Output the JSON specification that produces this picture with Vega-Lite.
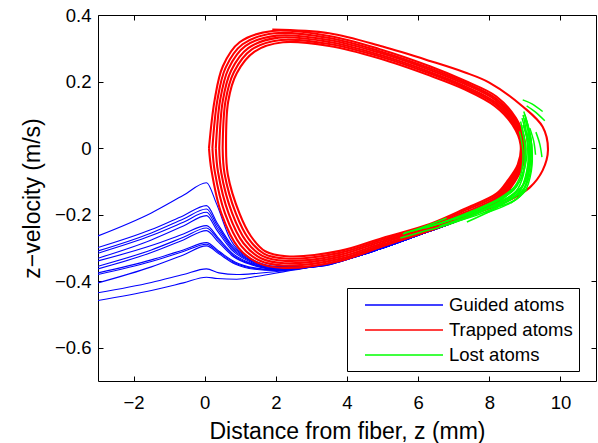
{
"$schema":"https://vega.github.io/schema/vega-lite/v6.json",
"width":498,"height":366,
"autosize":{"type":"none"},
"padding":{"left":98,"top":15,"right":2,"bottom":62},
"background":"white",
"config":{
 "font":"Liberation Sans",
 "view":{"stroke":"black","strokeWidth":1},
 "axis":{"grid":false,"domain":false,"tickColor":"black","tickSize":5,"tickWidth":1,"offset":-5,"labelColor":"black","titleColor":"black","labelFontSize":18.5,"titleFontSize":23,"titleFontWeight":"normal","labelFont":"Liberation Sans","titleFont":"Liberation Sans","labelFlush":false,"labelOverlap":false}
},
"datasets":{
"guided":[
{"id":1,"i":0,"z":-3,"v":-0.264},{"id":1,"i":1,"z":-1.5,"v":-0.195},{"id":1,"i":2,"z":-0.6,"v":-0.142},{"id":1,"i":3,"z":0.05,"v":-0.104},{"id":1,"i":4,"z":0.33,"v":-0.167},{"id":1,"i":5,"z":0.7,"v":-0.27},{"id":1,"i":6,"z":1.27,"v":-0.33},{"id":1,"i":7,"z":2.0,"v":-0.355},{"id":1,"i":8,"z":3.0,"v":-0.357},{"id":1,"i":9,"z":4.5,"v":-0.318},{"id":1,"i":10,"z":6.0,"v":-0.262},{"id":1,"i":11,"z":7.5,"v":-0.2},{"id":1,"i":12,"z":8.6,"v":-0.125},
{"id":2,"i":0,"z":-3,"v":-0.299},{"id":2,"i":1,"z":-1.5,"v":-0.245},{"id":2,"i":2,"z":-0.6,"v":-0.203},{"id":2,"i":3,"z":0.05,"v":-0.173},{"id":2,"i":4,"z":0.35,"v":-0.225},{"id":2,"i":5,"z":0.75,"v":-0.29},{"id":2,"i":6,"z":1.3,"v":-0.335},{"id":2,"i":7,"z":2.0,"v":-0.357},{"id":2,"i":8,"z":3.0,"v":-0.357},{"id":2,"i":9,"z":4.5,"v":-0.318},{"id":2,"i":10,"z":6.0,"v":-0.262},{"id":2,"i":11,"z":7.5,"v":-0.2},{"id":2,"i":12,"z":8.6,"v":-0.125},
{"id":3,"i":0,"z":-3,"v":-0.309},{"id":3,"i":1,"z":-1.5,"v":-0.255},{"id":3,"i":2,"z":-0.6,"v":-0.213},{"id":3,"i":3,"z":0.05,"v":-0.183},{"id":3,"i":4,"z":0.35,"v":-0.232},{"id":3,"i":5,"z":0.75,"v":-0.295},{"id":3,"i":6,"z":1.3,"v":-0.338},{"id":3,"i":7,"z":2.0,"v":-0.358},{"id":3,"i":8,"z":3.0,"v":-0.357},{"id":3,"i":9,"z":4.5,"v":-0.318},{"id":3,"i":10,"z":6.0,"v":-0.262},{"id":3,"i":11,"z":7.5,"v":-0.2},{"id":3,"i":12,"z":8.6,"v":-0.125},
{"id":4,"i":0,"z":-3,"v":-0.316},{"id":4,"i":1,"z":-1.5,"v":-0.263},{"id":4,"i":2,"z":-0.6,"v":-0.223},{"id":4,"i":3,"z":0.05,"v":-0.193},{"id":4,"i":4,"z":0.35,"v":-0.24},{"id":4,"i":5,"z":0.75,"v":-0.3},{"id":4,"i":6,"z":1.3,"v":-0.34},{"id":4,"i":7,"z":2.0,"v":-0.359},{"id":4,"i":8,"z":3.0,"v":-0.357},{"id":4,"i":9,"z":4.5,"v":-0.318},{"id":4,"i":10,"z":6.0,"v":-0.262},{"id":4,"i":11,"z":7.5,"v":-0.2},{"id":4,"i":12,"z":8.6,"v":-0.125},
{"id":5,"i":0,"z":-3,"v":-0.331},{"id":5,"i":1,"z":-1.5,"v":-0.276},{"id":5,"i":2,"z":-0.6,"v":-0.234},{"id":5,"i":3,"z":0.05,"v":-0.203},{"id":5,"i":4,"z":0.35,"v":-0.248},{"id":5,"i":5,"z":0.75,"v":-0.305},{"id":5,"i":6,"z":1.3,"v":-0.343},{"id":5,"i":7,"z":2.0,"v":-0.36},{"id":5,"i":8,"z":3.0,"v":-0.357},{"id":5,"i":9,"z":4.5,"v":-0.318},{"id":5,"i":10,"z":6.0,"v":-0.262},{"id":5,"i":11,"z":7.5,"v":-0.2},{"id":5,"i":12,"z":8.6,"v":-0.125},
{"id":6,"i":0,"z":-3,"v":-0.339},{"id":6,"i":1,"z":-1.5,"v":-0.293},{"id":6,"i":2,"z":-0.6,"v":-0.258},{"id":6,"i":3,"z":0.05,"v":-0.233},{"id":6,"i":4,"z":0.38,"v":-0.27},{"id":6,"i":5,"z":0.8,"v":-0.318},{"id":6,"i":6,"z":1.35,"v":-0.348},{"id":6,"i":7,"z":2.0,"v":-0.362},{"id":6,"i":8,"z":3.0,"v":-0.357},{"id":6,"i":9,"z":4.5,"v":-0.318},{"id":6,"i":10,"z":6.0,"v":-0.262},{"id":6,"i":11,"z":7.5,"v":-0.2},{"id":6,"i":12,"z":8.6,"v":-0.125},
{"id":7,"i":0,"z":-3,"v":-0.355},{"id":7,"i":1,"z":-1.5,"v":-0.306},{"id":7,"i":2,"z":-0.6,"v":-0.268},{"id":7,"i":3,"z":0.05,"v":-0.24},{"id":7,"i":4,"z":0.38,"v":-0.275},{"id":7,"i":5,"z":0.8,"v":-0.322},{"id":7,"i":6,"z":1.35,"v":-0.35},{"id":7,"i":7,"z":2.0,"v":-0.363},{"id":7,"i":8,"z":3.0,"v":-0.357},{"id":7,"i":9,"z":4.5,"v":-0.318},{"id":7,"i":10,"z":6.0,"v":-0.262},{"id":7,"i":11,"z":7.5,"v":-0.2},{"id":7,"i":12,"z":8.6,"v":-0.125},
{"id":8,"i":0,"z":-3,"v":-0.363},{"id":8,"i":1,"z":-1.5,"v":-0.314},{"id":8,"i":2,"z":-0.6,"v":-0.276},{"id":8,"i":3,"z":0.05,"v":-0.248},{"id":8,"i":4,"z":0.38,"v":-0.282},{"id":8,"i":5,"z":0.8,"v":-0.326},{"id":8,"i":6,"z":1.35,"v":-0.352},{"id":8,"i":7,"z":2.0,"v":-0.364},{"id":8,"i":8,"z":3.0,"v":-0.357},{"id":8,"i":9,"z":4.5,"v":-0.318},{"id":8,"i":10,"z":6.0,"v":-0.262},{"id":8,"i":11,"z":7.5,"v":-0.2},{"id":8,"i":12,"z":8.6,"v":-0.125},
{"id":9,"i":0,"z":-3,"v":-0.375},{"id":9,"i":1,"z":-1.5,"v":-0.336},{"id":9,"i":2,"z":-0.6,"v":-0.306},{"id":9,"i":3,"z":0.05,"v":-0.284},{"id":9,"i":4,"z":0.4,"v":-0.31},{"id":9,"i":5,"z":0.85,"v":-0.342},{"id":9,"i":6,"z":1.4,"v":-0.36},{"id":9,"i":7,"z":2.0,"v":-0.366},{"id":9,"i":8,"z":3.0,"v":-0.357},{"id":9,"i":9,"z":4.5,"v":-0.318},{"id":9,"i":10,"z":6.0,"v":-0.262},{"id":9,"i":11,"z":7.5,"v":-0.2},{"id":9,"i":12,"z":8.6,"v":-0.125},
{"id":10,"i":0,"z":-3,"v":-0.38},{"id":10,"i":1,"z":-1.5,"v":-0.341},{"id":10,"i":2,"z":-0.6,"v":-0.311},{"id":10,"i":3,"z":0.05,"v":-0.289},{"id":10,"i":4,"z":0.4,"v":-0.314},{"id":10,"i":5,"z":0.85,"v":-0.345},{"id":10,"i":6,"z":1.4,"v":-0.362},{"id":10,"i":7,"z":2.0,"v":-0.367},{"id":10,"i":8,"z":3.0,"v":-0.357},{"id":10,"i":9,"z":4.5,"v":-0.318},{"id":10,"i":10,"z":6.0,"v":-0.262},{"id":10,"i":11,"z":7.5,"v":-0.2},{"id":10,"i":12,"z":8.6,"v":-0.125},
{"id":11,"i":0,"z":-3,"v":-0.405},{"id":11,"i":1,"z":-1.5,"v":-0.357},{"id":11,"i":2,"z":-0.6,"v":-0.321},{"id":11,"i":3,"z":0.05,"v":-0.294},{"id":11,"i":4,"z":0.4,"v":-0.318},{"id":11,"i":5,"z":0.85,"v":-0.348},{"id":11,"i":6,"z":1.4,"v":-0.364},{"id":11,"i":7,"z":2.0,"v":-0.368},{"id":11,"i":8,"z":3.0,"v":-0.357},{"id":11,"i":9,"z":4.5,"v":-0.318},{"id":11,"i":10,"z":6.0,"v":-0.262},{"id":11,"i":11,"z":7.5,"v":-0.2},{"id":11,"i":12,"z":8.6,"v":-0.125},
{"id":12,"i":0,"z":-3,"v":-0.435},{"id":12,"i":1,"z":-1.5,"v":-0.404},{"id":12,"i":2,"z":-0.6,"v":-0.38},{"id":12,"i":3,"z":0.05,"v":-0.363},{"id":12,"i":4,"z":0.4,"v":-0.375},{"id":12,"i":5,"z":0.9,"v":-0.38},{"id":12,"i":6,"z":1.5,"v":-0.376},{"id":12,"i":7,"z":2.1,"v":-0.37},{"id":12,"i":8,"z":3.0,"v":-0.357},{"id":12,"i":9,"z":4.5,"v":-0.318},{"id":12,"i":10,"z":6.0,"v":-0.262},{"id":12,"i":11,"z":7.5,"v":-0.2},{"id":12,"i":12,"z":8.6,"v":-0.125},
{"id":13,"i":0,"z":-3,"v":-0.458},{"id":13,"i":1,"z":-1.5,"v":-0.428},{"id":13,"i":2,"z":-0.6,"v":-0.405},{"id":13,"i":3,"z":0.05,"v":-0.388},{"id":13,"i":4,"z":0.35,"v":-0.392},{"id":13,"i":5,"z":0.9,"v":-0.394},{"id":13,"i":6,"z":1.5,"v":-0.385},{"id":13,"i":7,"z":2.2,"v":-0.372},{"id":13,"i":8,"z":3.0,"v":-0.357},{"id":13,"i":9,"z":4.5,"v":-0.318},{"id":13,"i":10,"z":6.0,"v":-0.262},{"id":13,"i":11,"z":7.5,"v":-0.2},{"id":13,"i":12,"z":8.6,"v":-0.125}
],
"trapped":[
{"id":0,"i":0,"z":0.12,"v":0},{"id":0,"i":1,"z":0.28,"v":0.145},{"id":0,"i":2,"z":0.51,"v":0.246},{"id":0,"i":3,"z":0.98,"v":0.318},{"id":0,"i":4,"z":1.9,"v":0.352},{"id":0,"i":5,"z":3.5,"v":0.337},{"id":0,"i":6,"z":4.9,"v":0.298},{"id":0,"i":7,"z":6.33,"v":0.246},{"id":0,"i":8,"z":7.3,"v":0.203},{"id":0,"i":9,"z":8.2,"v":0.155},{"id":0,"i":10,"z":8.75,"v":0.09},{"id":0,"i":11,"z":9.0,"v":0.02},{"id":0,"i":12,"z":8.95,"v":-0.05},{"id":0,"i":13,"z":8.6,"v":-0.12},{"id":0,"i":14,"z":8.2,"v":-0.167},{"id":0,"i":15,"z":7.3,"v":-0.21},{"id":0,"i":16,"z":6.33,"v":-0.248},{"id":0,"i":17,"z":5.0,"v":-0.295},{"id":0,"i":18,"z":3.8,"v":-0.339},{"id":0,"i":19,"z":2.2,"v":-0.36},{"id":0,"i":20,"z":1.5,"v":-0.345},{"id":0,"i":21,"z":0.95,"v":-0.3},{"id":0,"i":22,"z":0.47,"v":-0.197},{"id":0,"i":23,"z":0.19,"v":-0.067},{"id":0,"i":24,"z":0.12,"v":0},
{"id":1,"i":0,"z":0.216,"v":0},{"id":1,"i":1,"z":0.356,"v":0.144},{"id":1,"i":2,"z":0.588,"v":0.242},{"id":1,"i":3,"z":1.064,"v":0.312},{"id":1,"i":4,"z":1.96,"v":0.345},{"id":1,"i":5,"z":3.5,"v":0.331},{"id":1,"i":6,"z":4.9,"v":0.292},{"id":1,"i":7,"z":6.33,"v":0.24},{"id":1,"i":8,"z":7.3,"v":0.198},{"id":1,"i":9,"z":8.19,"v":0.149},{"id":1,"i":10,"z":8.73,"v":0.086},{"id":1,"i":11,"z":8.976,"v":0.018},{"id":1,"i":12,"z":8.92,"v":-0.05},{"id":1,"i":13,"z":8.58,"v":-0.116},{"id":1,"i":14,"z":8.2,"v":-0.161},{"id":1,"i":15,"z":7.3,"v":-0.205},{"id":1,"i":16,"z":6.33,"v":-0.244},{"id":1,"i":17,"z":5.0,"v":-0.29},{"id":1,"i":18,"z":3.8,"v":-0.333},{"id":1,"i":19,"z":2.22,"v":-0.353},{"id":1,"i":20,"z":1.54,"v":-0.338},{"id":1,"i":21,"z":1.02,"v":-0.293},{"id":1,"i":22,"z":0.572,"v":-0.197},{"id":1,"i":23,"z":0.282,"v":-0.07},{"id":1,"i":24,"z":0.216,"v":0},
{"id":2,"i":0,"z":0.312,"v":0},{"id":2,"i":1,"z":0.432,"v":0.143},{"id":2,"i":2,"z":0.666,"v":0.238},{"id":2,"i":3,"z":1.148,"v":0.307},{"id":2,"i":4,"z":2.02,"v":0.338},{"id":2,"i":5,"z":3.5,"v":0.325},{"id":2,"i":6,"z":4.9,"v":0.287},{"id":2,"i":7,"z":6.33,"v":0.235},{"id":2,"i":8,"z":7.3,"v":0.193},{"id":2,"i":9,"z":8.18,"v":0.144},{"id":2,"i":10,"z":8.71,"v":0.082},{"id":2,"i":11,"z":8.952,"v":0.016},{"id":2,"i":12,"z":8.89,"v":-0.05},{"id":2,"i":13,"z":8.56,"v":-0.112},{"id":2,"i":14,"z":8.2,"v":-0.155},{"id":2,"i":15,"z":7.3,"v":-0.199},{"id":2,"i":16,"z":6.33,"v":-0.24},{"id":2,"i":17,"z":5.0,"v":-0.285},{"id":2,"i":18,"z":3.8,"v":-0.327},{"id":2,"i":19,"z":2.24,"v":-0.346},{"id":2,"i":20,"z":1.58,"v":-0.331},{"id":2,"i":21,"z":1.09,"v":-0.286},{"id":2,"i":22,"z":0.674,"v":-0.197},{"id":2,"i":23,"z":0.374,"v":-0.072},{"id":2,"i":24,"z":0.312,"v":0},
{"id":3,"i":0,"z":0.408,"v":0},{"id":3,"i":1,"z":0.508,"v":0.142},{"id":3,"i":2,"z":0.744,"v":0.233},{"id":3,"i":3,"z":1.232,"v":0.301},{"id":3,"i":4,"z":2.08,"v":0.332},{"id":3,"i":5,"z":3.5,"v":0.319},{"id":3,"i":6,"z":4.9,"v":0.281},{"id":3,"i":7,"z":6.33,"v":0.229},{"id":3,"i":8,"z":7.3,"v":0.187},{"id":3,"i":9,"z":8.17,"v":0.138},{"id":3,"i":10,"z":8.69,"v":0.078},{"id":3,"i":11,"z":8.928,"v":0.014},{"id":3,"i":12,"z":8.86,"v":-0.05},{"id":3,"i":13,"z":8.54,"v":-0.108},{"id":3,"i":14,"z":8.2,"v":-0.149},{"id":3,"i":15,"z":7.3,"v":-0.194},{"id":3,"i":16,"z":6.33,"v":-0.236},{"id":3,"i":17,"z":5.0,"v":-0.28},{"id":3,"i":18,"z":3.8,"v":-0.321},{"id":3,"i":19,"z":2.26,"v":-0.339},{"id":3,"i":20,"z":1.62,"v":-0.324},{"id":3,"i":21,"z":1.16,"v":-0.279},{"id":3,"i":22,"z":0.776,"v":-0.197},{"id":3,"i":23,"z":0.466,"v":-0.075},{"id":3,"i":24,"z":0.408,"v":0},
{"id":4,"i":0,"z":0.504,"v":0},{"id":4,"i":1,"z":0.584,"v":0.141},{"id":4,"i":2,"z":0.822,"v":0.229},{"id":4,"i":3,"z":1.316,"v":0.296},{"id":4,"i":4,"z":2.14,"v":0.325},{"id":4,"i":5,"z":3.5,"v":0.313},{"id":4,"i":6,"z":4.9,"v":0.276},{"id":4,"i":7,"z":6.33,"v":0.224},{"id":4,"i":8,"z":7.3,"v":0.182},{"id":4,"i":9,"z":8.16,"v":0.133},{"id":4,"i":10,"z":8.67,"v":0.074},{"id":4,"i":11,"z":8.904,"v":0.012},{"id":4,"i":12,"z":8.83,"v":-0.05},{"id":4,"i":13,"z":8.52,"v":-0.104},{"id":4,"i":14,"z":8.2,"v":-0.143},{"id":4,"i":15,"z":7.3,"v":-0.188},{"id":4,"i":16,"z":6.33,"v":-0.232},{"id":4,"i":17,"z":5.0,"v":-0.275},{"id":4,"i":18,"z":3.8,"v":-0.315},{"id":4,"i":19,"z":2.28,"v":-0.332},{"id":4,"i":20,"z":1.66,"v":-0.317},{"id":4,"i":21,"z":1.23,"v":-0.272},{"id":4,"i":22,"z":0.878,"v":-0.197},{"id":4,"i":23,"z":0.558,"v":-0.077},{"id":4,"i":24,"z":0.504,"v":0},
{"id":5,"i":0,"z":0.6,"v":0},{"id":5,"i":1,"z":0.66,"v":0.14},{"id":5,"i":2,"z":0.9,"v":0.225},{"id":5,"i":3,"z":1.4,"v":0.29},{"id":5,"i":4,"z":2.2,"v":0.318},{"id":5,"i":5,"z":3.5,"v":0.307},{"id":5,"i":6,"z":4.9,"v":0.27},{"id":5,"i":7,"z":6.33,"v":0.218},{"id":5,"i":8,"z":7.3,"v":0.177},{"id":5,"i":9,"z":8.15,"v":0.127},{"id":5,"i":10,"z":8.65,"v":0.07},{"id":5,"i":11,"z":8.88,"v":0.01},{"id":5,"i":12,"z":8.8,"v":-0.05},{"id":5,"i":13,"z":8.5,"v":-0.1},{"id":5,"i":14,"z":8.2,"v":-0.137},{"id":5,"i":15,"z":7.3,"v":-0.183},{"id":5,"i":16,"z":6.33,"v":-0.228},{"id":5,"i":17,"z":5.0,"v":-0.27},{"id":5,"i":18,"z":3.8,"v":-0.309},{"id":5,"i":19,"z":2.3,"v":-0.325},{"id":5,"i":20,"z":1.7,"v":-0.31},{"id":5,"i":21,"z":1.3,"v":-0.265},{"id":5,"i":22,"z":0.98,"v":-0.197},{"id":5,"i":23,"z":0.65,"v":-0.08},{"id":5,"i":24,"z":0.6,"v":0},
{"id":6,"i":0,"z":1.9,"v":0.356},{"id":6,"i":1,"z":3.5,"v":0.345},{"id":6,"i":2,"z":5.0,"v":0.305},{"id":6,"i":3,"z":6.33,"v":0.262},{"id":6,"i":4,"z":7.3,"v":0.228},{"id":6,"i":5,"z":8.0,"v":0.197},{"id":6,"i":6,"z":8.94,"v":0.125},{"id":6,"i":7,"z":9.5,"v":0.064},{"id":6,"i":8,"z":9.65,"v":-0.006},{"id":6,"i":9,"z":9.5,"v":-0.067},{"id":6,"i":10,"z":9.14,"v":-0.118},{"id":6,"i":11,"z":8.5,"v":-0.16},{"id":6,"i":12,"z":7.5,"v":-0.2},{"id":6,"i":13,"z":6.5,"v":-0.24},{"id":6,"i":14,"z":5.4,"v":-0.28},{"id":6,"i":15,"z":4.0,"v":-0.33}
],
"lost":[
{"id":1,"i":0,"z":8.95,"v":0.1},{"id":1,"i":1,"z":9.05,"v":0.04},{"id":1,"i":2,"z":9.05,"v":-0.03},{"id":1,"i":3,"z":8.85,"v":-0.1},{"id":1,"i":4,"z":8.3,"v":-0.15},{"id":1,"i":5,"z":7.5,"v":-0.19},{"id":1,"i":6,"z":6.5,"v":-0.23},{"id":1,"i":7,"z":5.6,"v":-0.255},
{"id":2,"i":0,"z":9.0,"v":0.09},{"id":2,"i":1,"z":9.12,"v":0.03},{"id":2,"i":2,"z":9.12,"v":-0.04},{"id":2,"i":3,"z":8.95,"v":-0.11},{"id":2,"i":4,"z":8.5,"v":-0.15},{"id":2,"i":5,"z":7.8,"v":-0.185},{"id":2,"i":6,"z":7.0,"v":-0.215},
{"id":3,"i":0,"z":9.05,"v":0.08},{"id":3,"i":1,"z":9.18,"v":0.02},{"id":3,"i":2,"z":9.15,"v":-0.05},{"id":3,"i":3,"z":8.98,"v":-0.12},{"id":3,"i":4,"z":8.6,"v":-0.155},{"id":3,"i":5,"z":8.0,"v":-0.18},
{"id":4,"i":0,"z":8.9,"v":0.07},{"id":4,"i":1,"z":9.0,"v":0.0},{"id":4,"i":2,"z":8.95,"v":-0.07},{"id":4,"i":3,"z":8.7,"v":-0.125},{"id":4,"i":4,"z":8.1,"v":-0.165},{"id":4,"i":5,"z":7.2,"v":-0.205},{"id":4,"i":6,"z":6.2,"v":-0.24},
{"id":5,"i":0,"z":9.1,"v":0.06},{"id":5,"i":1,"z":9.2,"v":0.0},{"id":5,"i":2,"z":9.18,"v":-0.07},{"id":5,"i":3,"z":9.0,"v":-0.13},{"id":5,"i":4,"z":8.6,"v":-0.165},
{"id":6,"i":0,"z":8.85,"v":0.05},{"id":6,"i":1,"z":8.95,"v":-0.02},{"id":6,"i":2,"z":8.85,"v":-0.09},{"id":6,"i":3,"z":8.5,"v":-0.14},{"id":6,"i":4,"z":7.8,"v":-0.18},{"id":6,"i":5,"z":6.8,"v":-0.22},{"id":6,"i":6,"z":5.8,"v":-0.25},
{"id":7,"i":0,"z":8.92,"v":0.09},{"id":7,"i":1,"z":9.08,"v":0.02},{"id":7,"i":2,"z":9.08,"v":-0.06},{"id":7,"i":3,"z":8.9,"v":-0.12},{"id":7,"i":4,"z":8.4,"v":-0.16},{"id":7,"i":5,"z":7.6,"v":-0.195},
{"id":8,"i":0,"z":8.94,"v":0.145},{"id":8,"i":1,"z":9.2,"v":0.133},{"id":8,"i":2,"z":9.5,"v":0.11},
{"id":9,"i":0,"z":9.05,"v":0.127},{"id":9,"i":1,"z":9.3,"v":0.108},{"id":9,"i":2,"z":9.56,"v":0.082},
{"id":10,"i":0,"z":9.31,"v":0.048},{"id":10,"i":1,"z":9.42,"v":0.012},{"id":10,"i":2,"z":9.48,"v":-0.027},
{"id":11,"i":0,"z":9.14,"v":0.06},{"id":11,"i":1,"z":9.25,"v":0.02},{"id":11,"i":2,"z":9.3,"v":-0.02},
{"id":12,"i":0,"z":7.37,"v":-0.222},{"id":12,"i":1,"z":8.2,"v":-0.18},{"id":12,"i":2,"z":9.05,"v":-0.124},
{"id":13,"i":0,"z":8.35,"v":-0.16},{"id":13,"i":1,"z":8.7,"v":-0.145},{"id":13,"i":2,"z":9.05,"v":-0.125},
{"id":14,"i":0,"z":5.57,"v":-0.258},{"id":14,"i":1,"z":6.2,"v":-0.235},{"id":14,"i":2,"z":6.8,"v":-0.21},
{"id":15,"i":0,"z":8.88,"v":0.08},{"id":15,"i":1,"z":9.02,"v":0.0},{"id":15,"i":2,"z":8.96,"v":-0.08},{"id":15,"i":3,"z":8.75,"v":-0.13},{"id":15,"i":4,"z":8.2,"v":-0.17},{"id":15,"i":5,"z":7.4,"v":-0.205},{"id":15,"i":6,"z":6.6,"v":-0.235},
{"id":16,"i":0,"z":9.0,"v":0.1},{"id":16,"i":1,"z":9.15,"v":0.04},{"id":16,"i":2,"z":9.2,"v":-0.03},{"id":16,"i":3,"z":9.08,"v":-0.1},{"id":16,"i":4,"z":8.8,"v":-0.15},{"id":16,"i":5,"z":8.3,"v":-0.175},
{"id":17,"i":0,"z":8.95,"v":0.07},{"id":17,"i":1,"z":9.1,"v":0.0},{"id":17,"i":2,"z":9.05,"v":-0.07},{"id":17,"i":3,"z":8.85,"v":-0.13},{"id":17,"i":4,"z":8.4,"v":-0.165},{"id":17,"i":5,"z":7.7,"v":-0.2},{"id":17,"i":6,"z":6.9,"v":-0.225},
{"id":18,"i":0,"z":9.05,"v":0.05},{"id":18,"i":1,"z":9.15,"v":-0.01},{"id":18,"i":2,"z":9.1,"v":-0.08},{"id":18,"i":3,"z":8.9,"v":-0.14},{"id":18,"i":4,"z":8.5,"v":-0.17},{"id":18,"i":5,"z":7.9,"v":-0.195},
{"id":19,"i":0,"z":8.97,"v":0.11},{"id":19,"i":1,"z":9.1,"v":0.06},{"id":19,"i":2,"z":9.15,"v":-0.01},{"id":19,"i":3,"z":9.05,"v":-0.09},{"id":19,"i":4,"z":8.8,"v":-0.14},
{"id":20,"i":0,"z":8.8,"v":-0.11},{"id":20,"i":1,"z":8.3,"v":-0.16},{"id":20,"i":2,"z":7.6,"v":-0.2},{"id":20,"i":3,"z":6.9,"v":-0.228},{"id":20,"i":4,"z":6.0,"v":-0.255},{"id":20,"i":5,"z":5.5,"v":-0.27}
]
},
"layer":[
{"data":{"name":"guided"},
 "mark":{"type":"line","interpolate":"monotone","strokeWidth":1.1,"clip":true},
 "encoding":{
  "x":{"field":"z","type":"quantitative","scale":{"domain":[-3,11],"nice":false,"zero":false},
       "axis":{"orient":"bottom","values":[-2,0,2,4,6,8,10],"title":"Distance from fiber, z (mm)","labelPadding":12,"titlePadding":9}},
  "y":{"field":"v","type":"quantitative","scale":{"domain":[-0.7,0.4],"nice":false,"zero":false},
       "axis":{"orient":"left","values":[-0.6,-0.4,-0.2,0,0.2,0.4],"format":"~g","title":"z−velocity (m/s)","labelPadding":7,"titlePadding":10}},
  "detail":{"field":"id"},
  "order":{"field":"i"},
  "color":{"datum":"Guided atoms","type":"nominal",
    "scale":{"domain":["Guided atoms","Trapped atoms","Lost atoms"],"range":["#0000ff","#ff0000","#00ff00"]},
    "legend":{"orient":"none","legendX":249,"legendY":273,"title":null,"strokeColor":"black","fillColor":"white","padding":6,
      "symbolType":"M-3.9,0H3.9","symbolSize":400,"symbolStrokeWidth":1.5,"symbolOffset":40,"labelOffset":34,
      "labelFontSize":18.5,"labelColor":"black","labelLimit":0,"rowPadding":4}}
 }},
{"data":{"name":"trapped"},
 "mark":{"type":"line","interpolate":"catmull-rom","strokeWidth":2.1,"clip":true},
 "encoding":{
  "x":{"field":"z","type":"quantitative","axis":{"orient":"top","values":[-2,0,2,4,6,8,10],"labels":false,"title":null}},
  "y":{"field":"v","type":"quantitative","axis":{"orient":"right","values":[-0.6,-0.4,-0.2,0,0.2,0.4],"labels":false,"title":null}},
  "detail":{"field":"id"},
  "order":{"field":"i"},
  "color":{"datum":"Trapped atoms","type":"nominal"}
 }},
{"data":{"name":"lost"},
 "mark":{"type":"line","interpolate":"catmull-rom","strokeWidth":1.5,"clip":true},
 "encoding":{
  "x":{"field":"z","type":"quantitative","axis":null},
  "y":{"field":"v","type":"quantitative","axis":null},
  "detail":{"field":"id"},
  "order":{"field":"i"},
  "color":{"datum":"Lost atoms","type":"nominal"}
 }}
],
"resolve":{"axis":{"x":"independent","y":"independent"}}
}
